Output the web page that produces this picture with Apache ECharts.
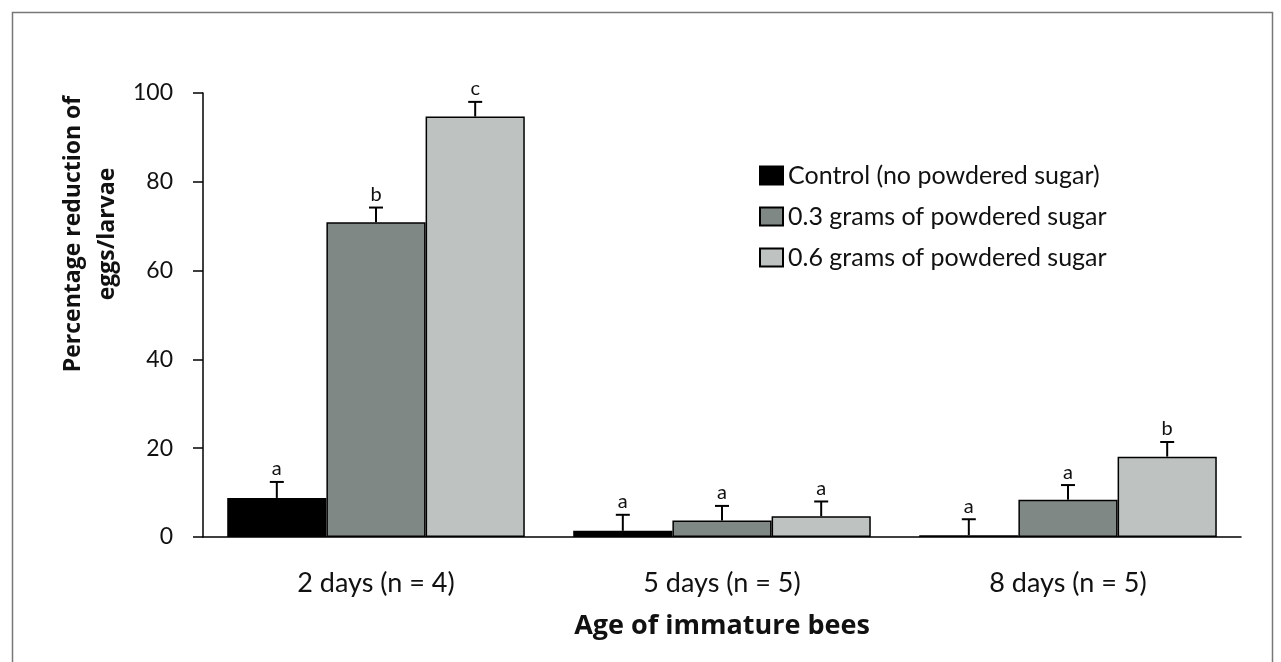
<!DOCTYPE html>
<html>
<head>
<meta charset="utf-8">
<script src="https://cdn.jsdelivr.net/npm/echarts@6/dist/echarts.min.js"></script>
<style>
  html, body { margin: 0; padding: 0; background: #fff; }
  #chart { width: 1281px; height: 662px; }
</style>
</head>
<body>
<div id="chart"></div>
<script>
var categories = ['2 days (n = 4)', '5 days (n = 5)', '8 days (n = 5)']
var seriesNames = ['Control (no powdered sugar)', '0.3 grams of powdered sugar', '0.6 grams of powdered sugar']
var controlValues = [8.8, 1.4, 0.4]
var controlErr = [3.6, 3.6, 3.6]
var controlLetters = ['a', 'a', 'a']
var lowValues = [70.9, 3.7, 8.4]
var lowErr = [3.3, 3.3, 3.3]
var lowLetters = ['b', 'a', 'a']
var highValues = [94.7, 4.7, 18.1]
var highErr = [3.3, 3.3, 3.3]
var highLetters = ['c', 'a', 'b']
var yTicks = [0, 20, 40, 60, 80, 100]

var FONT = 'Lato'
var BOLD = 'Open Sans'
var colors = ['#000000', '#808886', '#bec3c2']
var catGap = 0.14

var groups = [
  { values: controlValues, err: controlErr, letters: controlLetters },
  { values: lowValues, err: lowErr, letters: lowLetters },
  { values: highValues, err: highErr, letters: highLetters }
]

var series = []
groups.forEach(function (g, i) {
  series.push({
    name: seriesNames[i],
    type: 'bar',
    barGap: 0,
    barCategoryGap: (catGap * 100) + '%',
    itemStyle: { color: colors[i], borderColor: '#000', borderWidth: 1.5 },
    data: g.values
  })
})

// error bars (upper only) + significance letters
groups.forEach(function (g, i) {
  var data = g.values.map(function (v, k) {
    return [k, v, v + g.err[k], g.letters[k]]
  })
  series.push({
    type: 'custom',
    name: 'err' + i,
    silent: true,
    z: 5,
    encode: { x: 0, y: [1, 2] },
    data: data,
    renderItem: function (params, api) {
      var band = api.size([1, 0])[0]
      var bw = band * (1 - catGap) / 3
      var x = api.coord([api.value(0), 0])[0] + (i - 1) * bw
      var yb = api.coord([api.value(0), api.value(1)])[1]
      var yt = api.coord([api.value(0), api.value(2)])[1]
      var letter = data[params.dataIndex][3]
      var st = { stroke: '#000', lineWidth: 2 }
      return {
        type: 'group',
        children: [
          { type: 'line', shape: { x1: x, y1: yb, x2: x, y2: yt }, style: st },
          { type: 'line', shape: { x1: x - 7, y1: yt, x2: x + 7, y2: yt }, style: st },
          {
            type: 'text',
            style: {
              text: letter, x: x, y: yt - 3,
              align: 'center', verticalAlign: 'bottom',
              font: '20px ' + FONT, fill: '#111'
            }
          }
        ]
      }
    }
  })
})

var option = {
  animation: false,
  backgroundColor: '#fff',
  grid: { left: 203, right: 40, top: 93, bottom: 125, containLabel: false },
  legend: {
    data: seriesNames,
    orient: 'vertical',
    left: 754,
    top: 158,
    itemGap: 16,
    itemWidth: 23,
    itemHeight: 18,
    icon: 'rect',
    selectedMode: false,
    textStyle: { fontFamily: FONT, fontSize: 25, color: '#111' }
  },
  xAxis: {
    type: 'category',
    data: categories,
    name: 'Age of immature bees',
    nameLocation: 'middle',
    nameGap: 76,
    nameTextStyle: { fontFamily: BOLD, fontSize: 27, fontWeight: 'bold', color: '#111' },
    axisLine: { lineStyle: { color: '#000', width: 1.5 } },
    axisTick: { show: false },
    axisLabel: { fontFamily: FONT, fontSize: 27, color: '#111', margin: 33 }
  },
  yAxis: {
    type: 'value',
    min: 0,
    max: 100,
    interval: 20,
    splitLine: { show: false },
    axisLine: { show: true, lineStyle: { color: '#000', width: 1.5 } },
    axisTick: { show: true, length: 10, lineStyle: { color: '#000', width: 1.5 } },
    axisLabel: {
      fontFamily: FONT, fontSize: 23, color: '#111', margin: 30,
      formatter: function (v) { return yTicks.indexOf(v) >= 0 ? String(v) : '' }
    }
  },
  graphic: [
    {
      type: 'rect',
      left: 10, top: 10,
      shape: { width: 1260, height: 700 },
      style: { fill: 'none', stroke: '#777', lineWidth: 1.5 },
      silent: true
    },
    {
      type: 'text',
      x: 90, y: 234,
      rotation: Math.PI / 2,
      style: {
        text: 'Percentage reduction of\neggs/larvae',
        align: 'center', verticalAlign: 'middle',
        lineHeight: 34,
        font: 'bold 23px ' + BOLD, fill: '#111'
      }
    }
  ],
  series: series
}

var myChart = echarts.init(document.getElementById('chart'))
myChart.setOption(option)
</script>
</body>
</html>
